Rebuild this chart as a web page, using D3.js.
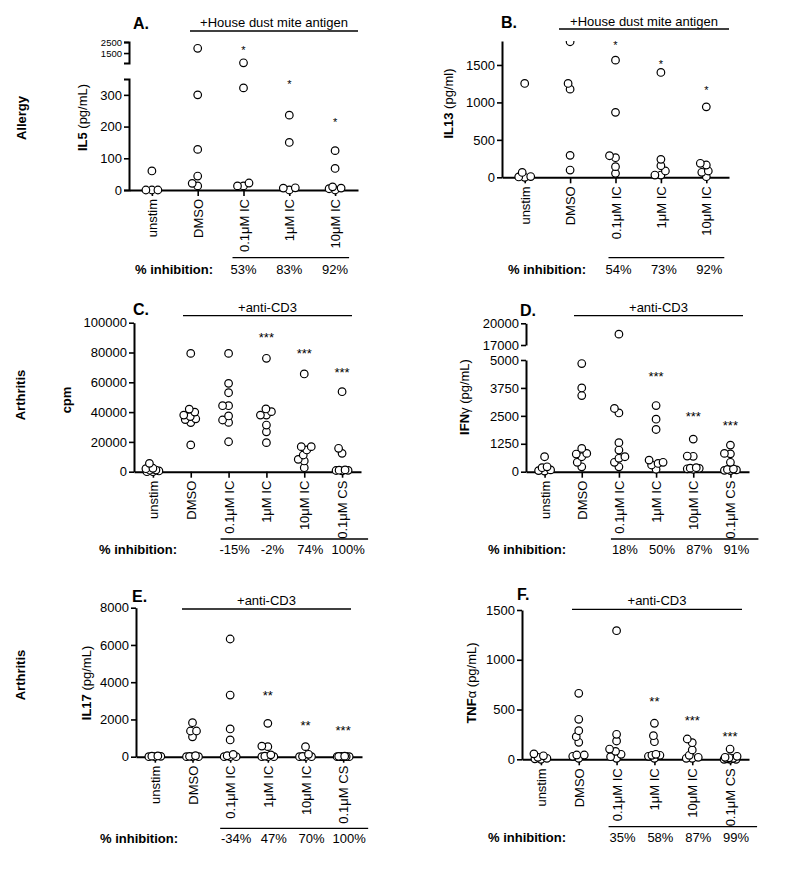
<!DOCTYPE html>
<html><head><meta charset="utf-8">
<script src="https://cdn.jsdelivr.net/npm/d3@7"></script>
<style>
body{margin:0;background:#fff;}
svg{font-family:"Liberation Sans",Arial,Helvetica,sans-serif;}
</style></head><body>
<svg id="c" width="800" height="877"></svg>
<script>
// ---------------- DATA ----------------
const catsAllergy = ["unstim","DMSO","0.1\u03bcM IC","1\u03bcM IC","10\u03bcM IC"];
const catsArthritis = ["unstim","DMSO","0.1\u03bcM IC","1\u03bcM IC","10\u03bcM IC","0.1\u03bcM CS"];

// A: IL5 (pg/mL)
const aUnstim = [60,0,0,0];
const aDMSO   = [1930,300,128,44,13,21];
const aIC01   = [620,322,13,22,13];
const aIC1    = [236,150,6,0,7];
const aIC10   = [124,68,6,0,10,4];
const aStars  = ["","","*","*","*"];
const aStarVals = [null,null,1957,340,220];
const aInhib  = ["53%","83%","92%"];
const aTicksLow = [0,100,200,300];
const aTicksHigh = [1500,2500];

// B: IL13 (pg/ml)
const bUnstim = [1253,65,0,10,5];
const bDMSO   = [1810,1253,1177,293,97];
const bIC01   = [1564,867,288,262,142,53];
const bIC1    = [1400,240,155,84,30,30];
const bIC10   = [941,187,164,84,67,8];
const bStars  = ["","","*","*","*"];
const bStarVals = [null,null,1793,1543,1192];
const bInhib  = ["54%","73%","92%"];
const bTicks  = [0,500,1000,1500];

// C: cpm
const cUnstim = [5600,2300,2000,1100,1000,500,0,0];
const cDMSO   = [79400,42000,40000,38000,37000,35500,35000,33000,18000];
const cIC01   = [79400,59300,53000,44300,44300,37400,34700,33100,20100];
const cIC1    = [76100,42100,40300,38000,38000,31300,26800,19500];
const cIC10   = [65600,16800,16800,14600,11200,8300,7200,2700];
const cCS01   = [53700,15700,12300,1000,800,1200,600,900];
const cStars  = ["","","","***","***","***"];
const cStarVals = [null,null,null,91700,81200,68300];
const cInhib  = ["-15%","-2%","74%","100%"];
const cTicks  = [0,20000,40000,60000,80000,100000];

// D: IFNγ (pg/mL)
const dUnstim = [670,220,180,80,50,30];
const dDMSO   = [4840,3750,3410,1040,820,790,670,420,220];
const dIC01   = [18500,2830,2630,1300,970,670,600,420,220];
const dIC1    = [2960,2350,1890,520,420,370,300,110];
const dIC10   = [1460,700,690,180,160,150,130,110];
const dCS01   = [1190,820,800,420,120,100,80,60,50];
const dStars  = ["","","","***","***","***"];
const dStarVals = [null,null,null,4373,2614,2193];
const dInhib  = ["18%","50%","87%","91%"];
const dTicksLow = [0,1250,2500,3750,5000];
const dTicksHigh = [17000,20000];

// E: IL17 (pg/mL)
const eUnstim = [40,30,20,0,0];
const eDMSO   = [1825,1380,1380,1070,50,20,0,0,0];
const eIC01   = [6320,3310,1490,900,120,50,0,0,0];
const eIC1    = [1790,570,540,100,30,0,0,0];
const eIC10   = [540,130,20,0,0,0];
const eCS01   = [30,20,10,10,0,0,0,0];
const eStars  = ["","","","**","**","***"];
const eStarVals = [null,null,null,3458,1847,1579];
const eInhib  = ["-34%","47%","70%","100%"];
const eTicks  = [0,2000,4000,6000,8000];

// F: TNFα (pg/mL)
const fUnstim = [55,35,20,10,5,0];
const fDMSO   = [663,402,287,227,171,43,43,30,10];
const fIC01   = [1292,251,184,103,80,50,26,10];
const fIC1    = [362,237,177,50,40,40,30,10];
const fIC10   = [204,167,94,40,20,10,10];
const fCS01   = [103,30,20,15,10,5,0,0,0];
const fStars  = ["","","","**","***","***"];
const fStarVals = [null,null,null,606,422,254];
const fInhib  = ["35%","58%","87%","99%"];
const fTicks  = [0,500,1000,1500];

// ---------------- LAYOUT ----------------
const panels = [
 {letter:"A.", lx:133, ly:28.5, header:"+House dust mite antigen", hx:[190,358], hy:31, hty:27,
  row:"Allergy", rowPos:[26,118],
  title:[["IL5",true],[" (pg/mL)",false]], tPos:[87,117.5],
  cats:catsAllergy, series:[aUnstim,aDMSO,aIC01,aIC1,aIC10],
  axisX:129, xEnd:358,
  segs:[{d:[0,350], r:[190,79], ticks:aTicksLow, outer:5, fs:13},{d:[600,2500], r:[63,42], ticks:aTicksHigh, outer:5, fs:9.5}],
  stars:aStars, starVals:aStarVals, starSize:11,
  inhib:aInhib, inhibDx:0, inhY:274, inhX:135, brY:257.7, brExt:[-11,14]},
 {letter:"B.", lx:501, ly:28, header:"+House dust mite antigen", hx:[559,729], hy:29, hty:26,
  row:null,
  title:[["IL13",true],[" (pg/ml)",false]], tPos:[453,103.5],
  cats:catsAllergy, series:[bUnstim,bDMSO,bIC01,bIC1,bIC10],
  axisX:502, xEnd:729,
  segs:[{d:[0,1820], r:[177.3,41], ticks:bTicks, outer:0, fs:13}],
  stars:bStars, starVals:bStarVals, starSize:11,
  inhib:bInhib, inhibDx:3, inhY:274, inhX:508, brY:257.7, brExt:[-7,18]},
 {letter:"C.", lx:133, ly:315, header:"+anti-CD3", hx:[183,352], hy:315.7, hty:312,
  row:"Arthritis", rowPos:[25,395],
  title:[["cpm",true]], tPos:[71,400],
  cats:catsArthritis, series:[cUnstim,cDMSO,cIC01,cIC1,cIC10,cCS01],
  axisX:134, xEnd:361,
  segs:[{d:[0,100000], r:[471.7,322.7], ticks:cTicks, outer:0, fs:13}],
  stars:cStars, starVals:cStarVals, starSize:13,
  inhib:cInhib, inhibDx:6, inhY:554, inhX:99, brY:539, brExt:[-8,26]},
 {letter:"D.", lx:520, ly:315.7, header:"+anti-CD3", hx:[574,743], hy:315.7, hty:312,
  row:null,
  title:[["IFN",true],["\u03b3",false],[" (pg/mL)",false]], tPos:[469,397],
  cats:catsArthritis, series:[dUnstim,dDMSO,dIC01,dIC1,dIC10,dCS01],
  axisX:526, xEnd:749,
  segs:[{d:[0,5000], r:[471.7,360], ticks:dTicksLow, outer:0, fs:13},{d:[17000,20000], r:[345,323.3], ticks:dTicksHigh, outer:0, fs:13}],
  stars:dStars, starVals:dStarVals, starSize:13,
  inhib:dInhib, inhibDx:6, inhY:554, inhX:488, brY:539, brExt:[-8,28]},
 {letter:"E.", lx:132, ly:601.7, header:"+anti-CD3", hx:[182,351], hy:609, hty:605,
  row:"Arthritis", rowPos:[25,675],
  title:[["IL17",true],[" (pg/mL)",false]], tPos:[91,683],
  cats:catsArthritis, series:[eUnstim,eDMSO,eIC01,eIC1,eIC10,eCS01],
  axisX:136, xEnd:362,
  segs:[{d:[0,8000], r:[756.7,607.7], ticks:eTicks, outer:0, fs:13}],
  stars:eStars, starVals:eStarVals, starSize:13,
  inhib:eInhib, inhibDx:6, inhY:843, inhX:100, brY:828.3, brExt:[-10,25]},
 {letter:"F.", lx:517, ly:600, header:"+anti-CD3", hx:[572,742], hy:609.3, hty:605,
  row:null,
  title:[["TNF",true],["\u03b1",false],[" (pg/mL)",false]], tPos:[476,683],
  cats:catsArthritis, series:[fUnstim,fDMSO,fIC01,fIC1,fIC10,fCS01],
  axisX:522, xEnd:749,
  segs:[{d:[0,1500], r:[759.3,610], ticks:fTicks, outer:0, fs:13}],
  stars:fStars, starVals:fStarVals, starSize:13,
  inhib:fInhib, inhibDx:6, inhY:842, inhX:488, brY:826.7, brExt:[-8,27]}
];

const svg = d3.select("#c");
const R = 3.8, MIND = 6;

function swarm(vals, cx, yf){
  const pts = vals.map(v=>({v, y:yf(v)})).sort((a,b)=>b.y-a.y);
  const cands=[0];
  for(let k=0.5;k<=7.01;k+=0.5){cands.push(-k,k);}
  const placed=[];
  pts.forEach(p=>{
    let best=0,bestD=-1;
    for(const dx of cands){
      let md=Infinity;
      for(const q of placed){ const d=Math.hypot(dx-q.dx,p.y-q.y); if(d<md) md=d; }
      if(md>=MIND){best=dx;bestD=md;break;}
      if(md>bestD+0.01){bestD=md;best=dx;}
    }
    p.dx=best; placed.push(p);
  });
  return placed.map(p=>({x:cx+p.dx,y:p.y}));
}

panels.forEach((p,pi)=>{
  const g = svg.append("g");
  const x = d3.scalePoint().domain(p.cats).range([p.axisX,p.xEnd]).padding(0.5);
  const ys = p.segs.map(s=>d3.scaleLinear().domain(s.d).range(s.r));
  const yf = v=>{ for(let i=p.segs.length-1;i>=0;i--){ if(i===0 || v>=p.segs[i].d[0]) return ys[i](v);} };
  const zeroY = ys[0](0);

  // y axis segments
  p.segs.forEach((s,i)=>{
    const ax = d3.axisLeft(ys[i]).tickValues(s.ticks).tickSize(5).tickSizeOuter(s.outer).tickPadding(2).tickFormat(d3.format("d"));
    const ga = g.append("g").attr("transform",`translate(${p.axisX},0)`).call(ax);
    ga.attr("font-family",null).attr("font-size",s.fs);
    ga.select(".domain").attr("stroke","#000").attr("stroke-width",2);
    ga.selectAll(".tick line").attr("stroke","#000").attr("stroke-width",1.6);
    ga.selectAll(".tick text").attr("fill","#000");
  });

  // x axis
  const xa = d3.axisBottom(x).tickSize(6).tickSizeOuter(0);
  const gx = g.append("g").attr("transform",`translate(0,${zeroY})`).call(xa);
  gx.attr("font-family",null).attr("font-size",13);
  gx.select(".domain").attr("stroke","#000").attr("stroke-width",2);
  gx.selectAll(".tick line").attr("stroke","#000").attr("stroke-width",1.6);
  gx.selectAll(".tick text").attr("fill","#000")
    .attr("transform","rotate(-90)").attr("text-anchor","end")
    .attr("x",-9).attr("y",0).attr("dy","0.35em");

  // clip
  const top = d3.min(p.segs, s=>Math.min(s.r[0],s.r[1]));
  const cid = "clip"+pi;
  svg.append("clipPath").attr("id",cid).append("rect")
    .attr("x",p.axisX-10).attr("y",top).attr("width",p.xEnd-p.axisX+30).attr("height",zeroY-top+20);

  // points
  const gp = g.append("g").attr("clip-path",`url(#${cid})`);
  p.cats.forEach((c,i)=>{
    const pts = swarm(p.series[i], x(c), yf);
    gp.selectAll(null).data(pts).enter().append("circle")
      .attr("cx",d=>d.x).attr("cy",d=>d.y).attr("r",R)
      .attr("fill","#fff").attr("stroke","#000").attr("stroke-width",1.2);
  });

  // stars
  p.cats.forEach((c,i)=>{
    if(!p.stars[i]) return;
    g.append("text").attr("x",x(c)).attr("y",yf(p.starVals[i])+p.starSize*0.57)
      .attr("text-anchor","middle").attr("font-size",p.starSize).text(p.stars[i]);
  });

  // letter
  g.append("text").attr("x",p.lx).attr("y",p.ly).attr("font-size",16).attr("font-weight","bold").text(p.letter);
  // header
  g.append("line").attr("x1",p.hx[0]).attr("x2",p.hx[1]).attr("y1",p.hy).attr("y2",p.hy).attr("stroke","#000").attr("stroke-width",1.3);
  g.append("text").attr("x",(p.hx[0]+p.hx[1])/2).attr("y",p.hty).attr("text-anchor","middle").attr("font-size",13).text(p.header);

  // row label
  if(p.row){
    g.append("text").attr("transform",`translate(${p.rowPos[0]},${p.rowPos[1]}) rotate(-90)`)
      .attr("text-anchor","middle").attr("font-size",13).attr("font-weight","bold").text(p.row);
  }
  // y title
  const tt = g.append("text").attr("transform",`translate(${p.tPos[0]},${p.tPos[1]}) rotate(-90)`)
      .attr("text-anchor","middle").attr("font-size",13);
  p.title.forEach(([t,b])=>tt.append("tspan").attr("font-weight",b?"bold":"normal").text(t));

  // inhibition row
  const treated = p.cats.slice(2);
  g.append("line").attr("x1",x(treated[0])+p.brExt[0]).attr("x2",x(treated[treated.length-1])+p.brExt[1])
    .attr("y1",p.brY).attr("y2",p.brY).attr("stroke","#000").attr("stroke-width",1.3);
  g.append("text").attr("x",p.inhX).attr("y",p.inhY).attr("font-size",13).attr("font-weight","bold").text("% inhibition:");
  treated.forEach((c,i)=>{
    g.append("text").attr("x",x(c)+p.inhibDx).attr("y",p.inhY).attr("text-anchor","middle").attr("font-size",13).text(p.inhib[i]);
  });
});
</script>
</body></html>
